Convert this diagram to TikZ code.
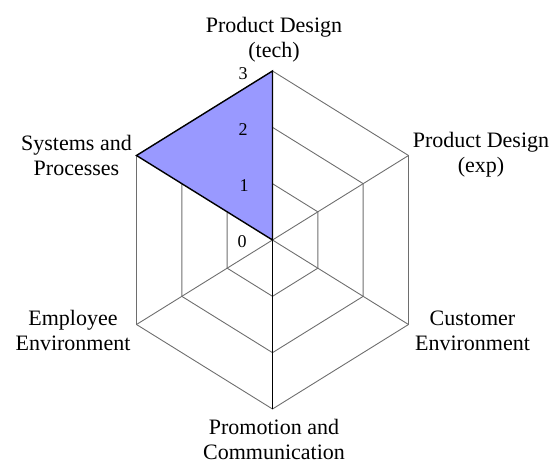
\documentclass[tikz,border=0pt]{standalone}
\usepackage{fontspec}
\setmainfont{Liberation Serif}
\usetikzlibrary{calc}
\definecolor{gridgray}{HTML}{6E6E6E}
\definecolor{seriesfill}{HTML}{9999FF}
\begin{document}
\begin{tikzpicture}[x=1pt,y=-1pt,
  grid/.style={draw=gridgray, line width=0.9pt},
  series/.style={draw=black, line width=1.4pt, fill=seriesfill, line join=miter},
  mainaxis/.style={draw=black, line width=1.4pt},
  catlabel/.style={font=\fontsize{22}{25}\selectfont, align=center, inner sep=0pt},
  vallabel/.style={font=\fontsize{18}{20}\selectfont, inner sep=0pt}]
\useasboundingbox (0,0) rectangle (557,464);
\coordinate (C) at (272.5,240);
\coordinate (T) at (272.5,71);
\coordinate (UR) at (408.5,155.5);
\coordinate (LR) at (408.5,324.5);
\coordinate (B) at (272.5,409);
\coordinate (LL) at (136.5,324.5);
\coordinate (UL) at (136.5,155.5);
% grid hexagons
\foreach \k in {0.3333,0.6667,1} {
  \draw[grid] ($(C)!\k!(T)$) -- ($(C)!\k!(UR)$) -- ($(C)!\k!(LR)$) -- ($(C)!\k!(B)$) -- ($(C)!\k!(LL)$) -- ($(C)!\k!(UL)$) -- cycle;
}
% spokes
\draw[grid] (C) -- (UR);
\draw[grid] (C) -- (LR);
\draw[grid] (C) -- (LL);
% data series
\draw[series] (C) -- (T) -- (UL) -- cycle;
\draw[mainaxis] (C) -- (B);
% value labels
\node[vallabel] (v3) at (243,74) {3};
\node[vallabel] (v2) at (243,130) {2};
\node[vallabel] (v1) at (244,186) {1};
\node[vallabel] (v0) at (242,242) {0};
% category labels
\node[catlabel] (ltech) at (274,39.5) {Product Design\\(tech)};
\node[catlabel] (lexp) at (481,154.5) {Product Design\\(exp)};
\node[catlabel] (lcust) at (472.5,331) {Customer\\Environment};
\node[catlabel] (lprom) at (274,439) {Promotion and\\Communication};
\node[catlabel] (lemp) at (73,330) {Employee\\Environment};
\node[catlabel] (lsys) at (76.5,155) {Systems and\\Processes};
\end{tikzpicture}
\end{document}
